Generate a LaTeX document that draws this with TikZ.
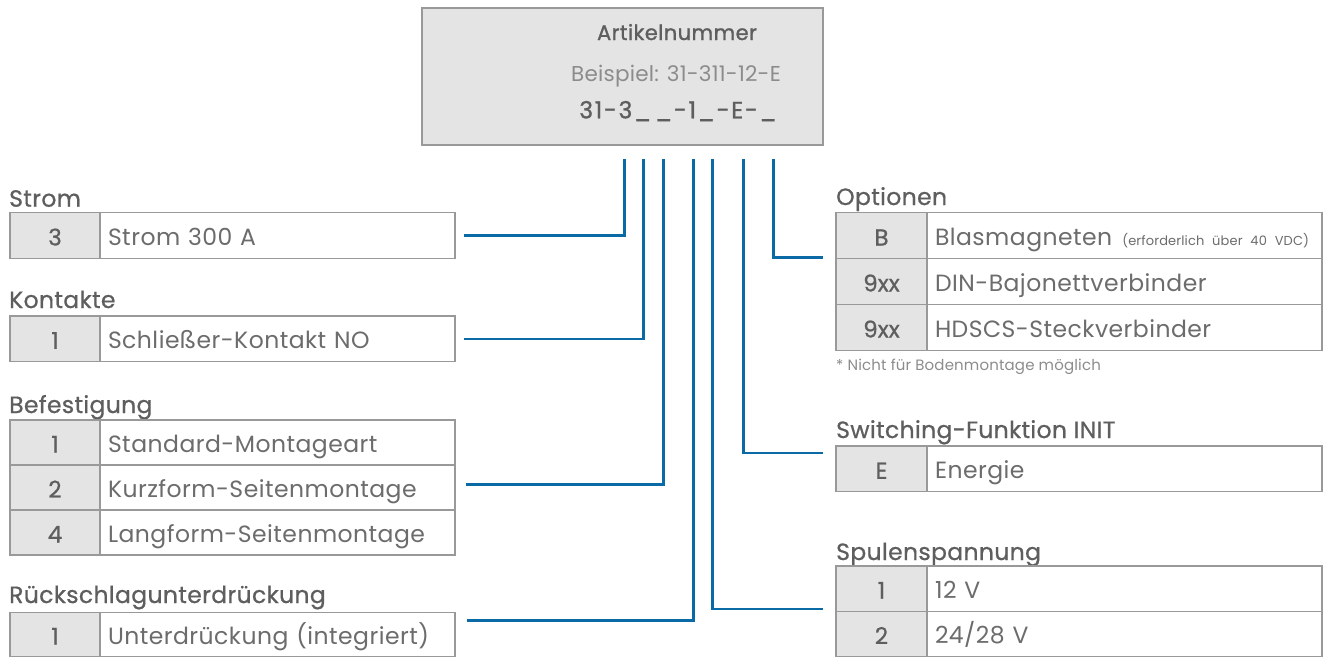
\documentclass[tikz,border=0pt]{standalone}
\usepackage{fontspec}
\setmainfont{Poppins}
\usetikzlibrary{positioning}
\definecolor{linkblue}{HTML}{0A6AA6}
\definecolor{cellgray}{HTML}{E4E4E4}
\definecolor{rulegray}{HTML}{999999}
\definecolor{textgray}{HTML}{6C6C6C}
\definecolor{headgray}{HTML}{5E5E5E}
\definecolor{lightgray}{HTML}{8C8C8C}
\tikzset{
  code/.style={draw=rulegray, fill=cellgray, line width=1.2pt, minimum height=45.5pt, inner sep=0pt, outer sep=0pt,
    text=headgray, font=\fontsize{23}{23}\selectfont\addfontfeatures{FakeBold=0.8}, text height=20pt, text depth=0pt},
  desc/.style={draw=rulegray, fill=white, line width=1.2pt, minimum height=45.5pt, inner xsep=8pt, inner ysep=0pt, outer sep=0pt,
    align=left, text=textgray, font=\fontsize{23.5}{23.5}\selectfont\addfontfeatures{LetterSpace=2}, text height=20pt, text depth=0pt},
  head/.style={anchor=base west, inner sep=0pt, text=headgray, font=\fontsize{23.5}{23.5}\selectfont\addfontfeatures{FakeBold=0.8,LetterSpace=1.5}},
  link/.style={draw=linkblue, line width=2.5pt}
}
\begin{document}
\begin{tikzpicture}[x=1pt, y=-1pt]
  \useasboundingbox (0,0) rectangle (1328,657);
  % Artikelnummer
  \node (artnr) [draw=rulegray, fill=cellgray, line width=2pt, minimum width=401pt, minimum height=137pt, anchor=north west] at (421,7) {};
  \node (art-title) [anchor=base, text=headgray, font=\fontsize{21}{21}\selectfont\addfontfeatures{FakeBold=1.2,LetterSpace=2}] at (677,40) {Artikelnummer};
  \node (art-bsp) [anchor=base, text=lightgray, font=\fontsize{21.5}{21.5}\selectfont\addfontfeatures{LetterSpace=1}] at (676,81.7) {Beispiel: 31-311-12-E};
  \node (art-code) [anchor=base, text=headgray, font=\fontsize{23.5}{23.5}\selectfont\addfontfeatures{FakeBold=1.2,LetterSpace=7}] at (678,118.3) {31-3\_\,\_-1\_-E-\_};
  % Strom
  \node (strom-h) [head] at (9,206.7) {Strom};
  \node (strom-c) [code, minimum width=90pt, anchor=north west] at (10,212.7) {3};
  \node (strom-t) [desc, text width=339pt, right=0pt of strom-c] {Strom 300 A};
  % Kontakte
  \node (kont-h) [head] at (9,308) {Kontakte};
  \node (kont-c) [code, minimum width=90pt, anchor=north west] at (10,316) {1};
  \node (kont-t) [desc, text width=339pt, right=0pt of kont-c] {Schließer-Kontakt NO};
  % Befestigung
  \node (bef-h) [head] at (9,413) {Befestigung};
  \node (bef-c1) [code, minimum width=90pt, minimum height=45pt, anchor=north west] at (10,420) {1};
  \node (bef-t1) [desc, text width=339pt, minimum height=45pt, right=0pt of bef-c1] {Standard-Montageart};
  \node (bef-c2) [code, minimum width=90pt, minimum height=45pt, below=0pt of bef-c1] {2};
  \node (bef-t2) [desc, text width=339pt, minimum height=45pt, right=0pt of bef-c2] {Kurzform-Seitenmontage};
  \node (bef-c3) [code, minimum width=90pt, minimum height=45pt, below=0pt of bef-c2] {4};
  \node (bef-t3) [desc, text width=339pt, minimum height=45pt, right=0pt of bef-c3] {Langform-Seitenmontage};
  % Rueckschlagunterdrueckung
  \node (rueck-h) [head] at (9,603) {Rückschlagunterdrückung};
  \node (rueck-c) [code, minimum width=90pt, minimum height=44pt, anchor=north west] at (10,612.5) {1};
  \node (rueck-t) [desc, text width=339pt, minimum height=44pt, right=0pt of rueck-c] {Unterdrückung (integriert)};
  % Optionen
  \node (opt-h) [head] at (836,205) {Optionen};
  \node (opt-c1) [code, minimum width=91pt, minimum height=46pt, anchor=north west] at (836,212.5) {B};
  \node (opt-t1) [desc, text width=379pt, minimum height=46pt, right=0pt of opt-c1] {Blasmagneten\hspace{10pt}{\fontsize{13}{13}\selectfont\addfontfeatures{LetterSpace=1}(erforderlich über 40 VDC)}};
  \node (opt-c2) [code, minimum width=91pt, minimum height=46pt, below=0pt of opt-c1] {9xx};
  \node (opt-t2) [desc, text width=379pt, minimum height=46pt, right=0pt of opt-c2] {DIN-Bajonettverbinder};
  \node (opt-c3) [code, minimum width=91pt, minimum height=46pt, below=0pt of opt-c2] {9xx};
  \node (opt-t3) [desc, text width=379pt, minimum height=46pt, right=0pt of opt-c3] {HDSCS-Steckverbinder};
  \node (opt-note) [anchor=base west, inner sep=0pt, text=lightgray, font=\fontsize{15}{15}\selectfont\addfontfeatures{LetterSpace=1}] at (836,370) {* Nicht für Bodenmontage möglich};
  % Switching-Funktion
  \node (sw-h) [head] at (836,438) {Switching-Funktion INIT};
  \node (sw-c) [code, minimum width=91pt, anchor=north west] at (836,446) {E};
  \node (sw-t) [desc, text width=379pt, right=0pt of sw-c] {Energie};
  % Spulenspannung
  \node (sp-h) [head] at (836,560) {Spulenspannung};
  \node (sp-c1) [code, minimum width=91pt, minimum height=45.3pt, anchor=north west] at (836,566) {1};
  \node (sp-t1) [desc, text width=379pt, minimum height=45.3pt, right=0pt of sp-c1] {12 V};
  \node (sp-c2) [code, minimum width=91pt, minimum height=45.3pt, below=0pt of sp-c1] {2};
  \node (sp-t2) [desc, text width=379pt, minimum height=45.3pt, right=0pt of sp-c2] {24/28 V};
  % connectors
  \coordinate (k1) at (624.3,159);
  \coordinate (k2) at (643.3,159);
  \coordinate (k3) at (663.7,159);
  \coordinate (k4) at (693.3,159);
  \coordinate (k5) at (712.7,159);
  \coordinate (k6) at (743.3,159);
  \coordinate (k7) at (773.3,159);
  \coordinate (strom-in) at ([xshift=9pt]strom-t.east);
  \coordinate (kont-in) at ([xshift=9pt]kont-t.east);
  \coordinate (bef-in) at ([xshift=11pt, yshift=3pt]bef-t2.east);
  \coordinate (rueck-in) at ([xshift=12pt, yshift=14pt]rueck-t.east);
  \coordinate (sp-in) at ([xshift=-13pt, yshift=2.5pt]sp-c1.south west);
  \coordinate (sw-in) at ([xshift=-13pt, yshift=-7pt]sw-c.north west);
  \coordinate (opt-in) at ([xshift=-13pt, yshift=1pt]opt-c1.south west);
  \draw[link] (k1) |- (strom-in);
  \draw[link] (k2) |- (kont-in);
  \draw[link] (k3) |- (bef-in);
  \draw[link] (k4) |- (rueck-in);
  \draw[link] (k5) |- (sp-in);
  \draw[link] (k6) |- (sw-in);
  \draw[link] (k7) |- (opt-in);
\end{tikzpicture}
\end{document}
